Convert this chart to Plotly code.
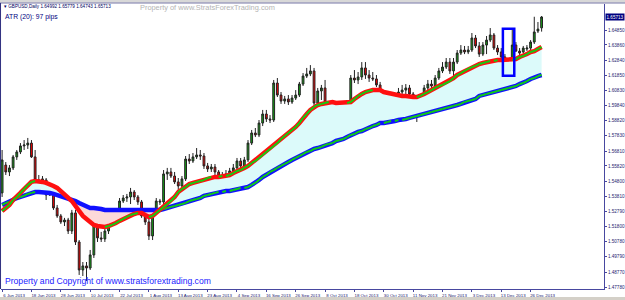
import plotly.graph_objects as go

# ---------------- data ----------------
date_labels = ["6 Jun 2013", "18 Jun 2013", "28 Jun 2013", "10 Jul 2013", "22 Jul 2013",
               "1 Aug 2013", "13 Aug 2013", "23 Aug 2013", "4 Sep 2013", "16 Sep 2013",
               "26 Sep 2013", "8 Oct 2013", "18 Oct 2013", "30 Oct 2013", "11 Nov 2013",
               "21 Nov 2013", "3 Dec 2013", "13 Dec 2013", "26 Dec 2013"]
date_bar_index = [0, 8, 16, 24, 32, 40, 48, 56, 64, 72, 80, 88, 96, 104, 112, 120, 128, 136, 144]

price_ticks = [1.47780, 1.48770, 1.49790, 1.50780, 1.51800, 1.52790, 1.53810, 1.54800, 1.55820,
               1.56810, 1.57830, 1.58820, 1.59840, 1.60830, 1.61850, 1.62840, 1.63860, 1.64850]

opens = [1.5403, 1.5588, 1.5542, 1.5569, 1.5642, 1.5675, 1.5715, 1.5721, 1.5734, 1.5642,
         1.5489, 1.5469, 1.5489, 1.5389, 1.5416, 1.5303, 1.5250, 1.5210, 1.5223, 1.5150,
         1.5270, 1.5077, 1.4891, 1.4918, 1.4904, 1.4991, 1.5237, 1.5104, 1.5097, 1.5150,
         1.5203, 1.5250, 1.5256, 1.5349, 1.5369, 1.5376, 1.5409, 1.5376, 1.5343, 1.5250,
         1.5210, 1.5117, 1.5270, 1.5349, 1.5343, 1.5529, 1.5542, 1.5515, 1.5476, 1.5449,
         1.5496, 1.5628, 1.5615, 1.5642, 1.5655, 1.5648, 1.5582, 1.5562, 1.5575, 1.5542,
         1.5515, 1.5502, 1.5529, 1.5549, 1.5569, 1.5615, 1.5582, 1.5622, 1.5734, 1.5801,
         1.5788, 1.5867, 1.5927, 1.5894, 1.5887, 1.6133, 1.6053, 1.6013, 1.6027, 1.6007,
         1.6033, 1.6053, 1.6126, 1.6179, 1.6193, 1.6213, 1.6000, 1.6080, 1.6100, 1.5967,
         1.5954, 1.5967, 1.5947, 1.5974, 1.5987, 1.5940, 1.6166, 1.6153, 1.6173, 1.6233,
         1.6186, 1.6166, 1.6160, 1.6120, 1.6047, 1.6040, 1.5967, 1.5927, 1.5994, 1.6073,
         1.6086, 1.6100, 1.6060, 1.5967, 1.5920, 1.6040, 1.6100, 1.6126, 1.6113, 1.6166,
         1.6213, 1.6239, 1.6272, 1.6213, 1.6272, 1.6332, 1.6352, 1.6339, 1.6352, 1.6432,
         1.6379, 1.6325, 1.6385, 1.6418, 1.6452, 1.6365, 1.6339, 1.6306, 1.6279, 1.6272,
         1.6385, 1.6345, 1.6339, 1.6359, 1.6365, 1.6405, 1.6478, 1.64992]
highs = [1.5688, 1.5608, 1.5588, 1.5655, 1.5688, 1.5734, 1.5754, 1.5768, 1.5754, 1.5688,
         1.5522, 1.5515, 1.5502, 1.5436, 1.5436, 1.5323, 1.5263, 1.5237, 1.5237, 1.5290,
         1.5290, 1.5090, 1.4944, 1.4944, 1.5024, 1.5256, 1.5256, 1.5144, 1.5170, 1.5223,
         1.5276, 1.5276, 1.5369, 1.5389, 1.5396, 1.5436, 1.5422, 1.5389, 1.5356, 1.5263,
         1.5230, 1.5290, 1.5369, 1.5363, 1.5555, 1.5569, 1.5569, 1.5542, 1.5502, 1.5515,
         1.5648, 1.5661, 1.5668, 1.5701, 1.5688, 1.5668, 1.5602, 1.5595, 1.5595, 1.5555,
         1.5542, 1.5555, 1.5569, 1.5595, 1.5635, 1.5635, 1.5642, 1.5754, 1.5821, 1.5834,
         1.5887, 1.5954, 1.5954, 1.5920, 1.6153, 1.6166, 1.6073, 1.6047, 1.6053, 1.6053,
         1.6086, 1.6140, 1.6199, 1.6233, 1.6252, 1.6233, 1.6100, 1.6120, 1.6153, 1.5994,
         1.5987, 1.5980, 1.5994, 1.6007, 1.6020, 1.6186, 1.6219, 1.6206, 1.6272, 1.6272,
         1.6219, 1.6206, 1.6186, 1.6140, 1.6086, 1.6073, 1.6007, 1.6020, 1.6100, 1.6120,
         1.6126, 1.6120, 1.6073, 1.5994, 1.6060, 1.6120, 1.6153, 1.6153, 1.6186, 1.6233,
         1.6272, 1.6299, 1.6299, 1.6299, 1.6352, 1.6385, 1.6379, 1.6379, 1.6465, 1.6452,
         1.6405, 1.6405, 1.6445, 1.6498, 1.6465, 1.6385, 1.6365, 1.6325, 1.6299, 1.6485,
         1.6405, 1.6365, 1.6379, 1.6385, 1.6418, 1.6573, 1.6538, 1.65779]
lows = [1.5376, 1.5522, 1.5515, 1.5555, 1.5622, 1.5661, 1.5688, 1.5695, 1.5635, 1.5476,
        1.5449, 1.5449, 1.5356, 1.5383, 1.5290, 1.5237, 1.5197, 1.5183, 1.5130, 1.5130,
        1.5057, 1.4858, 1.4851, 1.4818, 1.4891, 1.4971, 1.5077, 1.5077, 1.5077, 1.5130,
        1.5183, 1.5210, 1.5243, 1.5336, 1.5343, 1.5329, 1.5356, 1.5323, 1.5237, 1.5190,
        1.5090, 1.5090, 1.5256, 1.5323, 1.5329, 1.5489, 1.5502, 1.5462, 1.5422, 1.5436,
        1.5482, 1.5595, 1.5602, 1.5628, 1.5622, 1.5562, 1.5542, 1.5542, 1.5522, 1.5489,
        1.5476, 1.5489, 1.5515, 1.5529, 1.5549, 1.5555, 1.5562, 1.5608, 1.5721, 1.5774,
        1.5774, 1.5847, 1.5874, 1.5867, 1.5874, 1.6040, 1.5994, 1.5994, 1.5987, 1.5994,
        1.6020, 1.6040, 1.6113, 1.6166, 1.6179, 1.5980, 1.5980, 1.6020, 1.5940, 1.5927,
        1.5934, 1.5927, 1.5934, 1.5954, 1.5914, 1.5927, 1.6133, 1.6126, 1.6153, 1.6160,
        1.6140, 1.6146, 1.6106, 1.6027, 1.6020, 1.5940, 1.5901, 1.5914, 1.5980, 1.6047,
        1.6060, 1.6040, 1.5940, 1.5874, 1.5907, 1.6027, 1.6086, 1.6093, 1.6100, 1.6153,
        1.6199, 1.6226, 1.6193, 1.6133, 1.6259, 1.6319, 1.6325, 1.6325, 1.6339, 1.6365,
        1.6306, 1.6312, 1.6325, 1.6405, 1.6352, 1.6319, 1.6286, 1.6246, 1.6206, 1.6259,
        1.6339, 1.6319, 1.6332, 1.6345, 1.6352, 1.6392, 1.6465, 1.64743]
closes = [1.5622, 1.5542, 1.5569, 1.5642, 1.5675, 1.5715, 1.5721, 1.5734, 1.5642, 1.5489,
          1.5469, 1.5496, 1.5389, 1.5416, 1.5303, 1.5250, 1.5210, 1.5223, 1.5150, 1.5270,
          1.5077, 1.4891, 1.4918, 1.4904, 1.4991, 1.5237, 1.5104, 1.5097, 1.5150, 1.5203,
          1.5250, 1.5256, 1.5349, 1.5369, 1.5376, 1.5409, 1.5376, 1.5343, 1.5250, 1.5210,
          1.5117, 1.5270, 1.5349, 1.5343, 1.5529, 1.5542, 1.5515, 1.5476, 1.5449, 1.5496,
          1.5628, 1.5615, 1.5642, 1.5655, 1.5648, 1.5582, 1.5562, 1.5575, 1.5542, 1.5515,
          1.5502, 1.5529, 1.5549, 1.5569, 1.5615, 1.5582, 1.5622, 1.5734, 1.5801, 1.5788,
          1.5867, 1.5927, 1.5894, 1.5887, 1.6133, 1.6053, 1.6013, 1.6027, 1.6007, 1.6033,
          1.6053, 1.6126, 1.6179, 1.6193, 1.6213, 1.6000, 1.6080, 1.6100, 1.5967, 1.5954,
          1.5967, 1.5947, 1.5974, 1.5987, 1.5940, 1.6166, 1.6153, 1.6173, 1.6233, 1.6186,
          1.6166, 1.6160, 1.6120, 1.6047, 1.6040, 1.5967, 1.5927, 1.5994, 1.6073, 1.6086,
          1.6100, 1.6060, 1.5967, 1.5920, 1.6040, 1.6100, 1.6126, 1.6113, 1.6166, 1.6213,
          1.6239, 1.6272, 1.6213, 1.6272, 1.6332, 1.6352, 1.6339, 1.6352, 1.6432, 1.6379,
          1.6325, 1.6385, 1.6418, 1.6452, 1.6365, 1.6339, 1.6306, 1.6279, 1.6272, 1.6385,
          1.6345, 1.6332, 1.6365, 1.6365, 1.6405, 1.6472, 1.6491, 1.65713]

fast_ma = [1.5283, 1.5303, 1.5323, 1.5356, 1.5376, 1.5403, 1.5429, 1.5456, 1.5476, 1.5482,
           1.5482, 1.5476, 1.5469, 1.5462, 1.5449, 1.5436, 1.5416, 1.5396, 1.5376, 1.5349,
           1.5316, 1.5276, 1.5250, 1.5230, 1.5210, 1.5190, 1.5183, 1.5177, 1.5177, 1.5183,
           1.5190, 1.5203, 1.5217, 1.5230, 1.5243, 1.5256, 1.5263, 1.5270, 1.5270, 1.5256,
           1.5243, 1.5250, 1.5270, 1.5290, 1.5310, 1.5329, 1.5349, 1.5376, 1.5409, 1.5429,
           1.5442, 1.5462, 1.5469, 1.5476, 1.5482, 1.5489, 1.5502, 1.5509, 1.5509, 1.5509,
           1.5515, 1.5515, 1.5522, 1.5535, 1.5549, 1.5555, 1.5569, 1.5582, 1.5602, 1.5615,
           1.5635, 1.5655, 1.5675, 1.5695, 1.5715, 1.5734, 1.5761, 1.5781, 1.5801, 1.5821,
           1.5841, 1.5867, 1.5901, 1.5927, 1.5954, 1.5974, 1.5987, 1.5994, 1.6000, 1.6007,
           1.6007, 1.6000, 1.6000, 1.6000, 1.6000, 1.6007, 1.6027, 1.6047, 1.6060, 1.6073,
           1.6080, 1.6086, 1.6086, 1.6086, 1.6073, 1.6067, 1.6060, 1.6053, 1.6053, 1.6047,
           1.6047, 1.6040, 1.6040, 1.6040, 1.6047, 1.6060, 1.6073, 1.6086, 1.6100, 1.6113,
           1.6120, 1.6133, 1.6146, 1.6166, 1.6186, 1.6199, 1.6213, 1.6226, 1.6239, 1.6246,
           1.6259, 1.6266, 1.6272, 1.6279, 1.6279, 1.6286, 1.6286, 1.6286, 1.6286, 1.6286,
           1.6292, 1.6306, 1.6312, 1.6325, 1.6339, 1.6345, 1.6359, 1.6372]
slow_ma = [1.5323, 1.5336, 1.5343, 1.5356, 1.5369, 1.5376, 1.5383, 1.5396, 1.5403, 1.5409,
           1.5409, 1.5409, 1.5409, 1.5403, 1.5396, 1.5389, 1.5383, 1.5376, 1.5369, 1.5363,
           1.5349, 1.5336, 1.5323, 1.5310, 1.5303, 1.5303, 1.5296, 1.5296, 1.5290, 1.5290,
           1.5290, 1.5290, 1.5290, 1.5283, 1.5283, 1.5283, 1.5283, 1.5283, 1.5283, 1.5283,
           1.5283, 1.5283, 1.5283, 1.5290, 1.5296, 1.5303, 1.5310, 1.5316, 1.5323, 1.5329,
           1.5336, 1.5349, 1.5356, 1.5363, 1.5369, 1.5383, 1.5389, 1.5396, 1.5403, 1.5409,
           1.5409, 1.5416, 1.5416, 1.5422, 1.5429, 1.5436, 1.5436, 1.5442, 1.5456, 1.5469,
           1.5489, 1.5509, 1.5522, 1.5542, 1.5555, 1.5569, 1.5582, 1.5595, 1.5608, 1.5622,
           1.5635, 1.5648, 1.5661, 1.5675, 1.5681, 1.5695, 1.5701, 1.5708, 1.5721, 1.5728,
           1.5734, 1.5748, 1.5754, 1.5761, 1.5774, 1.5788, 1.5794, 1.5808, 1.5814, 1.5827,
           1.5834, 1.5847, 1.5854, 1.5867, 1.5867, 1.5874, 1.5881, 1.5881, 1.5887, 1.5887,
           1.5894, 1.5901, 1.5907, 1.5914, 1.5920, 1.5927, 1.5934, 1.5940, 1.5947, 1.5954,
           1.5960, 1.5967, 1.5974, 1.5980, 1.5987, 1.5994, 1.6007, 1.6013, 1.6020, 1.6027,
           1.6047, 1.6053, 1.6060, 1.6067, 1.6073, 1.6080, 1.6086, 1.6093, 1.6100, 1.6106,
           1.6113, 1.6126, 1.6133, 1.6146, 1.6160, 1.6166, 1.6179, 1.6186]

highlight_bars = [137, 138, 139]

header_text = "▾ GBPUSD,Daily 1.64992 1.65779 1.64743 1.65713"
atr_text = "ATR (20): 97 pips"
watermark_top = "Property of www.StratsForexTrading.com"
watermark_bottom = "Property and Copyright of www.stratsforextrading.com"

# ---------------- figure ----------------
W, H = 625, 300
ML, MR, MT, MB = 1, 21, 4, 11
PH = H - MT - MB

bars_x = list(range(len(closes)))
ma_x = list(range(len(fast_ma)))

def rising_segments(xs, ys):
    sx, sy = [], []
    for i in range(1, len(ys)):
        if ys[i] > ys[i - 1]:
            sx += [xs[i - 1], xs[i], None]
            sy += [ys[i - 1], ys[i], None]
    return sx, sy

upper = [max(f, s) for f, s in zip(fast_ma, slow_ma)]
lower = [min(f, s) for f, s in zip(fast_ma, slow_ma)]

fig = go.Figure()
fig.add_trace(go.Scatter(x=ma_x, y=slow_ma, mode="lines", line=dict(width=0),
                         hoverinfo="skip", showlegend=False))
fig.add_trace(go.Scatter(x=ma_x, y=upper, mode="lines", line=dict(width=0),
                         fill="tonexty", fillcolor="#dcfafa", hoverinfo="skip", showlegend=False))
fig.add_trace(go.Scatter(x=ma_x, y=slow_ma, mode="lines", line=dict(width=0),
                         hoverinfo="skip", showlegend=False))
fig.add_trace(go.Scatter(x=ma_x, y=lower, mode="lines", line=dict(width=0),
                         fill="tonexty", fillcolor="#fcd9d9", hoverinfo="skip", showlegend=False))

# slow line
fig.add_trace(go.Scatter(x=ma_x, y=slow_ma, mode="lines", line=dict(color="#1010ff", width=4.5),
                         showlegend=False))
sx, sy = rising_segments(ma_x, slow_ma)
fig.add_trace(go.Scatter(x=sx, y=sy, mode="lines", line=dict(color="#10d010", width=2),
                         showlegend=False))
# fast line
fig.add_trace(go.Scatter(x=ma_x, y=fast_ma, mode="lines", line=dict(color="#ff1010", width=4.5),
                         showlegend=False))
fx, fy = rising_segments(ma_x, fast_ma)
fig.add_trace(go.Scatter(x=fx, y=fy, mode="lines", line=dict(color="#10d010", width=2),
                         showlegend=False))

fig.add_trace(go.Candlestick(
    x=bars_x, open=opens, high=highs, low=lows, close=closes,
    increasing=dict(fillcolor="#16a016", line=dict(color="#222222", width=1)),
    decreasing=dict(fillcolor="#ff0000", line=dict(color="#222222", width=1)),
    whiskerwidth=0, showlegend=False))

# highlight box around selected bars
hb_lo = min(lows[i] for i in highlight_bars)
hb_hi = max(highs[i] for i in highlight_bars)
fig.add_shape(type="rect", xref="x", yref="y",
              x0=highlight_bars[0] - 0.55, x1=highlight_bars[-1] + 0.55,
              y0=hb_lo - 0.0025, y1=hb_hi + 0.0008,
              line=dict(color="#0000ff", width=2.5))

def py(px):
    return 1 - (px - MT) / PH

fig.add_annotation(xref="paper", yref="paper", x=0.002, y=py(6.5), xanchor="left", yanchor="middle",
                   text=header_text, showarrow=False,
                   font=dict(family="Liberation Sans, Arial", size=4.6, color="#000060"))
fig.add_annotation(xref="paper", yref="paper", x=0.003, y=py(16.5), xanchor="left", yanchor="middle",
                   text=atr_text, showarrow=False,
                   font=dict(family="Liberation Sans, Arial", size=6.8, color="#000080"))
fig.add_annotation(xref="paper", yref="paper", x=0.227, y=py(7.5), xanchor="left", yanchor="middle",
                   text=watermark_top, showarrow=False,
                   font=dict(family="Liberation Sans, Arial", size=7.4, color="#b4b4b4"))
fig.add_annotation(xref="paper", yref="paper", x=0.003, y=py(281), xanchor="left", yanchor="middle",
                   text=watermark_bottom, showarrow=False,
                   font=dict(family="Liberation Sans, Arial", size=8.6, color="#1a1aff"))
fig.add_annotation(xref="paper", yref="y", x=1.0, y=closes[-1], xanchor="left", yanchor="middle",
                   xshift=0.5, text=f"{closes[-1]:.5f}", showarrow=False, bgcolor="#000080",
                   borderpad=0.5,
                   font=dict(family="Liberation Sans, Arial", size=4.6, color="#ffffff"))

# frame pieces
fig.add_shape(type="rect", xref="paper", yref="paper", x0=-0.01, x1=1.05,
              y0=py(3.2), y1=py(-1), fillcolor="#d8d8d8", line=dict(width=0), layer="above")
fig.add_shape(type="line", xref="paper", yref="paper", x0=-0.01, x1=1.05,
              y0=py(3), y1=py(3), line=dict(color="#8080b0", width=1), layer="above")
fig.add_shape(type="rect", xref="paper", yref="paper", x0=-0.01, x1=1.05,
              y0=py(301), y1=py(297), fillcolor="#d4d0c8", line=dict(width=0), layer="above")
fig.add_shape(type="line", xref="paper", yref="paper", x0=-0.0008, x1=-0.0008,
              y0=py(289), y1=py(3), line=dict(color="#303080", width=1), layer="above")

axis_col = "#4848a0"
fig.update_layout(
    width=W, height=H, margin=dict(l=ML, r=MR, t=MT, b=MB, autoexpand=False),
    plot_bgcolor="#ffffff", paper_bgcolor="#ffffff", showlegend=False,
    xaxis=dict(range=[-0.3, 164.0], tickmode="array", tickvals=date_bar_index, ticktext=date_labels,
               ticks="outside", ticklen=2, tickcolor=axis_col, showgrid=False, zeroline=False,
               showline=True, linecolor=axis_col, linewidth=1, rangeslider=dict(visible=False),
               tickangle=0, automargin=False,
               tickfont=dict(family="Liberation Sans, Arial", size=4.4, color="#1c1c70"),
               ticklabelshift=12, ticklabelstandoff=0, fixedrange=True),
    yaxis=dict(range=[1.47647, 1.66577], side="right", tickmode="array", tickvals=price_ticks,
               ticktext=[f"{v:.5f}" for v in price_ticks], ticks="outside", ticklen=2,
               tickcolor=axis_col, showgrid=False, zeroline=False, showline=True,
               linecolor=axis_col, linewidth=1, ticklabelstandoff=0, automargin=False,
               tickfont=dict(family="Liberation Sans, Arial", size=4.6, color="#1c1c70")),
)

fig.write_html("out.html")
